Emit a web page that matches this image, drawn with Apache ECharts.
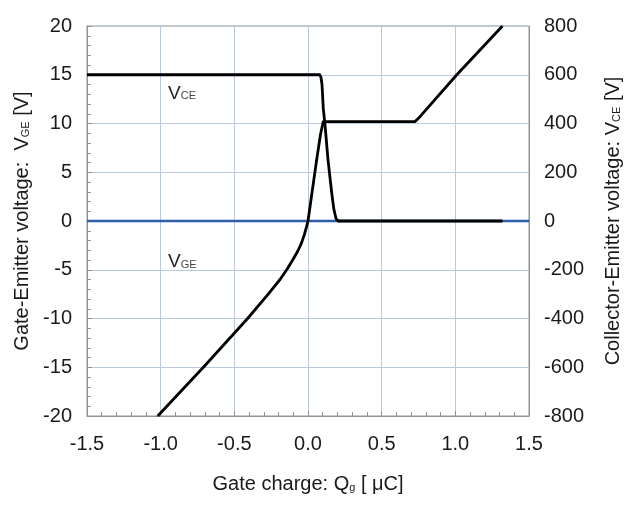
<!DOCTYPE html>
<html><head><meta charset="utf-8">
<script src="https://cdn.jsdelivr.net/npm/echarts@6/dist/echarts.min.js"></script>
<style>html,body{margin:0;padding:0;background:#fff}#c{width:636px;height:506px}</style>
</head><body><div id="c"></div>
<script>
// Gate charge (µC) and V_GE (left axis, V)
const vgeQ = [-1.02, -0.71, -0.41, -0.27, -0.19, -0.14, -0.10, -0.07, -0.045, -0.025, -0.01, 0.0, 0.03, 0.059, 0.085, 0.104, 0.727, 0.76, 1.01, 1.32];
const vgeV = [-20, -15, -10, -7.5, -6.0, -4.9, -3.9, -3.1, -2.3, -1.4, -0.6, 0, 3.2, 6.3, 8.9, 10.2, 10.2, 10.7, 15, 20];
// Gate charge (µC) and V_CE (right axis, V)
const vceQ = [-1.5, 0.08, 0.088, 0.095, 0.104, 0.116, 0.136, 0.161, 0.175, 0.19, 0.205, 1.32];
const vceV = [600, 600, 590, 560, 460, 390, 250, 115, 50, 10, 0, 0];
// zero reference line
const zeroQ = [-1.5, 1.5];
const zeroV = [0, 0];
// axis ranges
const xRange = [-1.5, 1.5, 0.5];
const yLeftRange = [-20, 20, 5];
const yRightRange = [-800, 800, 200];
// curve labels (data coordinates on left axis)
const curveLabels = [
  {main: 'V', sub: 'CE', q: -0.95, v: 13.1},
  {main: 'V', sub: 'GE', q: -0.95, v: -4.2}
];

const pair = (a, b) => a.map((x, i) => [x, b[i]]);
const FONT = 'Liberation Sans, Arial, sans-serif';
const txt = '#1a1a1a';
const gridCol = '#b9c8dd';
const frameCol = '#8e9296';

const chart = echarts.init(document.getElementById('c'), null, {renderer: 'canvas'});
const nameRich = {
  n: {fontSize: 20, fontFamily: FONT, color: txt},
  s: {fontSize: 11, fontFamily: FONT, color: txt, verticalAlign: 'bottom', padding: [0, 0, 1, 0]}
};
chart.setOption({
  animation: false,
  backgroundColor: '#fff',
  grid: {left: 87, right: 107, top: 26, bottom: 90, show: true, borderColor: frameCol, borderWidth: 1, containLabel: false},
  xAxis: {
    type: 'value', min: xRange[0], max: xRange[1], interval: xRange[2],
    axisLine: {show: true, onZero: false, lineStyle: {color: frameCol, width: 1}},
    axisTick: {show: true, inside: true, length: 5, lineStyle: {color: frameCol}},
    minorTick: {show: true, splitNumber: 5, length: 4, lineStyle: {color: frameCol}},
    splitLine: {show: true, lineStyle: {color: gridCol, width: 1}},
    axisLabel: {fontSize: 20, fontFamily: FONT, color: txt, margin: 18, formatter: v => v.toFixed(1)},
    name: '{n|Gate charge: Q}{s|g}{n| [ μC]}', nameLocation: 'middle', nameGap: 58,
    nameTextStyle: {rich: nameRich}
  },
  yAxis: [{
    type: 'value', min: yLeftRange[0], max: yLeftRange[1], interval: yLeftRange[2],
    axisLine: {show: true, onZero: false, lineStyle: {color: frameCol, width: 1}},
    axisTick: {show: true, inside: true, length: 5, lineStyle: {color: frameCol}},
    minorTick: {show: true, splitNumber: 5, length: 4, lineStyle: {color: frameCol}},
    splitLine: {show: true, lineStyle: {color: gridCol, width: 1}},
    axisLabel: {fontSize: 20, fontFamily: FONT, color: txt, margin: 15},
    name: '{n|Gate-Emitter voltage:  V}{s|GE}{n| [V]}', nameLocation: 'middle', nameGap: 52, nameRotate: 90,
    nameTextStyle: {rich: nameRich}
  }, {
    type: 'value', position: 'right', min: yRightRange[0], max: yRightRange[1], interval: yRightRange[2],
    axisLine: {show: true, onZero: false, lineStyle: {color: frameCol, width: 1}},
    axisTick: {show: false},
    splitLine: {show: false},
    axisLabel: {fontSize: 20, fontFamily: FONT, color: txt, margin: 15},
    name: '{n|Collector-Emitter voltage: V}{s|CE}{n| [V]}', nameLocation: 'middle', nameGap: 74, nameRotate: 90,
    nameTextStyle: {rich: nameRich}
  }],
  series: [
    {type: 'line', data: pair(zeroQ, zeroV), yAxisIndex: 0, showSymbol: false, symbol: 'none',
     lineStyle: {color: '#2e5ea8', width: 2.5}, z: 2},
    {type: 'line', data: pair(vgeQ, vgeV), yAxisIndex: 0, showSymbol: false, symbol: 'none',
     lineStyle: {color: '#000', width: 2.8, join: 'round'}, z: 3},
    {type: 'line', data: pair(vceQ, vceV), yAxisIndex: 1, showSymbol: false, symbol: 'none',
     lineStyle: {color: '#000', width: 2.8, join: 'round'}, z: 3}
  ]
});

const graphics = curveLabels.map(l => {
  const p = chart.convertToPixel({xAxisIndex: 0, yAxisIndex: 0}, [l.q, l.v]);
  return {
    type: 'text', x: p[0], y: p[1],
    style: {
      text: '{m|' + l.main + '}{s|' + l.sub + '}',
      verticalAlign: 'middle', align: 'left',
      rich: {
        m: {fontSize: 19, fontFamily: FONT, fill: '#222'},
        s: {fontSize: 11, fontFamily: FONT, fill: '#444', verticalAlign: 'bottom', padding: [0, 0, 1, 0]}
      }
    }
  };
});
chart.setOption({graphic: graphics});
</script>
</body></html>
